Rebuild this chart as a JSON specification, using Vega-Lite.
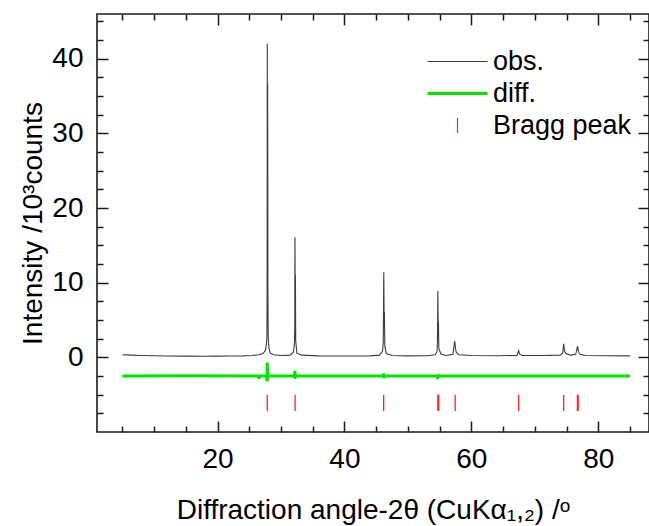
{
  "$schema": "https://vega.github.io/schema/vega-lite/v6.json",
  "width": 552,
  "height": 418,
  "autosize": {"type": "none"},
  "padding": {"left": 97, "top": 14, "right": 0, "bottom": 94},
  "background": "white",
  "config": {
    "view": {"stroke": "#1a1a1a", "strokeWidth": 1.6},
    "font": "Liberation Sans",
    "axis": {"domain": false, "grid": false, "tickColor": "#1a1a1a", "tickWidth": 1.5, "labelFont": "Liberation Sans", "labelColor": "#000", "titleFont": "Liberation Sans", "titleColor": "#000", "titleFontWeight": "normal", "labelOverlap": false, "labelFlush": false},
    "legend": {"labelFont": "Liberation Sans", "labelColor": "#000"}
  },
  "datasets": {
    "obs": [
      {"t": 5.0, "i": 0.35}, {"t": 6.5, "i": 0.3}, {"t": 8.0, "i": 0.25}, {"t": 10.0, "i": 0.22}, {"t": 12.0, "i": 0.18}, {"t": 15.0, "i": 0.16}, {"t": 18.0, "i": 0.15}, {"t": 20.0, "i": 0.16}, {"t": 22.0, "i": 0.18}, {"t": 24.0, "i": 0.2}, {"t": 25.5, "i": 0.25}, {"t": 26.5, "i": 0.35}, {"t": 27.2, "i": 0.55}, {"t": 27.55, "i": 0.95}, {"t": 27.7, "i": 1.8}, {"t": 27.78, "i": 2.8}, {"t": 27.81, "i": 8.0}, {"t": 27.84, "i": 42.0}, {"t": 27.87, "i": 20.0}, {"t": 27.9, "i": 36.7}, {"t": 27.94, "i": 8.0}, {"t": 27.99, "i": 2.6}, {"t": 28.1, "i": 1.2}, {"t": 28.3, "i": 0.6}, {"t": 28.8, "i": 0.35}, {"t": 30.0, "i": 0.25}, {"t": 31.4, "i": 0.3}, {"t": 31.95, "i": 0.7}, {"t": 32.12, "i": 1.8}, {"t": 32.17, "i": 4.0}, {"t": 32.2, "i": 16.1}, {"t": 32.24, "i": 8.0}, {"t": 32.27, "i": 11.0}, {"t": 32.32, "i": 2.2}, {"t": 32.5, "i": 0.6}, {"t": 33.2, "i": 0.3}, {"t": 36.0, "i": 0.2}, {"t": 40.0, "i": 0.18}, {"t": 44.0, "i": 0.2}, {"t": 45.5, "i": 0.3}, {"t": 46.0, "i": 0.8}, {"t": 46.12, "i": 2.0}, {"t": 46.2, "i": 11.4}, {"t": 46.25, "i": 5.0}, {"t": 46.29, "i": 6.1}, {"t": 46.36, "i": 1.5}, {"t": 46.6, "i": 0.5}, {"t": 47.5, "i": 0.25}, {"t": 50.0, "i": 0.2}, {"t": 53.0, "i": 0.22}, {"t": 54.3, "i": 0.35}, {"t": 54.58, "i": 0.8}, {"t": 54.66, "i": 2.0}, {"t": 54.72, "i": 8.9}, {"t": 54.77, "i": 4.0}, {"t": 54.81, "i": 4.7}, {"t": 54.88, "i": 1.2}, {"t": 55.2, "i": 0.45}, {"t": 56.0, "i": 0.25}, {"t": 57.1, "i": 0.4}, {"t": 57.38, "i": 2.2}, {"t": 57.5, "i": 1.2}, {"t": 57.62, "i": 0.7}, {"t": 58.0, "i": 0.35}, {"t": 60.0, "i": 0.25}, {"t": 64.0, "i": 0.22}, {"t": 67.2, "i": 0.25}, {"t": 67.45, "i": 0.9}, {"t": 67.6, "i": 0.45}, {"t": 68.0, "i": 0.25}, {"t": 71.0, "i": 0.25}, {"t": 74.0, "i": 0.3}, {"t": 74.4, "i": 0.6}, {"t": 74.55, "i": 1.8}, {"t": 74.7, "i": 0.8}, {"t": 74.9, "i": 0.5}, {"t": 75.6, "i": 0.3}, {"t": 76.45, "i": 0.4}, {"t": 76.75, "i": 1.5}, {"t": 76.88, "i": 0.8}, {"t": 77.1, "i": 0.4}, {"t": 78.0, "i": 0.25}, {"t": 81.0, "i": 0.22}, {"t": 85.0, "i": 0.2}
    ],
    "diff": [
      {"t": 5.0, "i": -2.5}, {"t": 15.0, "i": -2.48}, {"t": 26.4, "i": -2.5}, {"t": 26.5, "i": -2.85}, {"t": 26.6, "i": -2.5}, {"t": 27.72, "i": -2.5}, {"t": 27.8, "i": -3.2}, {"t": 27.84, "i": -0.7}, {"t": 27.88, "i": -3.15}, {"t": 27.92, "i": -2.0}, {"t": 28.0, "i": -2.5}, {"t": 32.1, "i": -2.5}, {"t": 32.17, "i": -1.8}, {"t": 32.22, "i": -2.9}, {"t": 32.28, "i": -2.2}, {"t": 32.35, "i": -2.5}, {"t": 40.0, "i": -2.5}, {"t": 46.12, "i": -2.5}, {"t": 46.18, "i": -2.15}, {"t": 46.25, "i": -2.8}, {"t": 46.33, "i": -2.5}, {"t": 54.66, "i": -2.5}, {"t": 54.72, "i": -2.9}, {"t": 54.78, "i": -2.3}, {"t": 54.86, "i": -2.5}, {"t": 70.0, "i": -2.5}, {"t": 85.0, "i": -2.5}
    ],
    "bragg": [
      {"t": 27.84}, {"t": 32.22}, {"t": 46.18}, {"t": 54.72}, {"t": 54.86}, {"t": 57.45}, {"t": 67.45}, {"t": 74.55}, {"t": 76.72}, {"t": 76.84}
    ]
  },
  "resolve": {"axis": {"x": "independent", "y": "independent"}},
  "layer": [
    {
      "data": {"name": "obs"},
      "mark": {"type": "line", "strokeWidth": 1.1},
      "encoding": {
        "x": {"field": "t", "type": "quantitative", "scale": {"domain": [1, 88], "nice": false, "zero": false},
          "axis": {"orient": "bottom", "values": [20, 40, 60, 80], "format": "d", "tickSize": -11, "labelFontSize": 28, "labelPadding": 24,
            "title": "Diffraction angle-2θ (CuKα₁,₂) /ᵒ", "titleFontSize": 28, "titleY": 86, "titleBaseline": "alphabetic"}},
        "y": {"field": "i", "type": "quantitative", "scale": {"domain": [-10, 46], "nice": false, "zero": false},
          "axis": {"orient": "left", "values": [0, 10, 20, 30, 40], "format": "d", "tickSize": -11, "labelFontSize": 28, "labelPadding": 25,
            "title": "Intensity /10³counts", "titleFontSize": 28, "titleX": -56, "titleBaseline": "alphabetic"}},
        "color": {"datum": "obs.", "type": "nominal",
          "scale": {"domain": ["obs.", "diff.", "Bragg peak"], "range": ["#3c3c3c", "#00e400", "#ff2020"]},
          "legend": {"orient": "none", "legendX": 347, "legendY": 34, "title": null, "labelFontSize": 27, "symbolSize": 100, "rowPadding": 4, "labelOffset": 22, "padding": 0,
            "encode": {"symbols": {"update": {
              "shape": {"signal": "datum.value === 'Bragg peak' ? 'M0,-1.5L0,1.5' : 'M-6,0L6,0'"},
              "strokeWidth": {"signal": "datum.value === 'diff.' ? 3 : (datum.value === 'Bragg peak' ? 1.2 : 1)"},
              "fill": {"value": "transparent"},
              "opacity": {"value": 1}
            }}}}}
      }
    },
    {
      "data": {"name": "diff"},
      "mark": {"type": "line", "strokeWidth": 3},
      "encoding": {
        "x": {"field": "t", "type": "quantitative", "scale": {"domain": [1, 88], "nice": false, "zero": false},
          "axis": {"orient": "bottom", "values": [5, 10, 15, 25, 30, 35, 45, 50, 55, 65, 70, 75, 85], "tickSize": -6, "labels": false, "title": null}},
        "y": {"field": "i", "type": "quantitative", "scale": {"domain": [-10, 46], "nice": false, "zero": false},
          "axis": {"orient": "left", "values": [-7.5, -5, -2.5, 2.5, 5, 7.5, 12.5, 15, 17.5, 22.5, 25, 27.5, 32.5, 35, 37.5, 42.5, 45], "tickSize": -6, "labels": false, "title": null}},
        "color": {"datum": "diff.", "type": "nominal"}
      }
    },
    {
      "data": {"name": "bragg"},
      "mark": {"type": "rule", "strokeWidth": 1.3},
      "encoding": {
        "x": {"field": "t", "type": "quantitative", "scale": {"domain": [1, 88], "nice": false, "zero": false},
          "axis": {"orient": "top", "values": [20, 40, 60, 80], "tickSize": -11, "labels": false, "title": null}},
        "y": {"datum": -5, "type": "quantitative", "scale": {"domain": [-10, 46], "nice": false, "zero": false},
          "axis": {"orient": "right", "values": [0, 10, 20, 30, 40], "tickSize": -11, "labels": false, "title": null}},
        "y2": {"datum": -7.2},
        "color": {"datum": "Bragg peak", "type": "nominal"}
      }
    },
    {
      "data": {"values": []},
      "mark": {"type": "point", "opacity": 0},
      "encoding": {
        "x": {"field": "t", "type": "quantitative", "scale": {"domain": [1, 88], "nice": false, "zero": false},
          "axis": {"orient": "top", "values": [5, 10, 15, 25, 30, 35, 45, 50, 55, 65, 70, 75, 85], "tickSize": -6, "labels": false, "title": null}},
        "y": {"field": "i", "type": "quantitative", "scale": {"domain": [-10, 46], "nice": false, "zero": false},
          "axis": {"orient": "right", "values": [-7.5, -5, -2.5, 2.5, 5, 7.5, 12.5, 15, 17.5, 22.5, 25, 27.5, 32.5, 35, 37.5, 42.5, 45], "tickSize": -6, "labels": false, "title": null}}
      }
    }
  ]
}
